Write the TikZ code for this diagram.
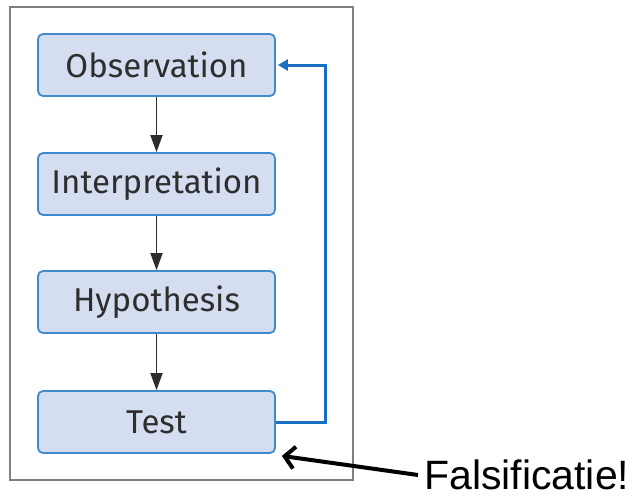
\documentclass[tikz,border=0pt]{standalone}
\usepackage{fontspec}
\setmainfont{Liberation Sans}
\newfontfamily\boxfont{Fira Sans}
\usetikzlibrary{arrows.meta}
\definecolor{boxfill}{HTML}{D5DEF0}
\definecolor{boxline}{HTML}{3F8BCB}
\definecolor{loopblue}{HTML}{1B6FC0}
\definecolor{txtgray}{HTML}{2E2E2E}
\tikzset{
  stepbox/.style={draw=boxline, line width=1.8pt, fill=boxfill, rounded corners=5pt,
    minimum width=237pt, minimum height=62pt, inner sep=0pt,
    font=\boxfont\fontsize{33}{33}\selectfont, text=txtgray},
  flow/.style={draw=txtgray, line width=1.8pt, -{Triangle[length=17pt,width=12pt]}},
  loop/.style={draw=loopblue, line width=3pt, -{Triangle[length=10pt,width=11pt]}},
  pointer/.style={draw=black, line width=4pt, -{Straight Barb[length=10pt,width=22pt,line width=4pt]}}
}
\begin{document}
\begin{tikzpicture}[x=1pt,y=-1pt]
\useasboundingbox (0,0) rectangle (638,499);
\node[draw=gray, line width=1.2pt, minimum width=343pt, minimum height=473pt, inner sep=0pt] (frame) at (181.5,243.5) {};
\node[stepbox] (obs) at (156.5,65) {Observation};
\node[stepbox] (int) at (156.5,184) {Interpretation};
\node[stepbox] (hyp) at (156.5,302) {Hypothesis};
\node[stepbox] (test) at (156.5,422) {Test};
\draw[flow] (obs) -- (int);
\draw[flow] (int) -- (hyp);
\draw[flow] (hyp) -- (test);
\coordinate (c1) at (325,422);
\coordinate (c2) at (325,65);
\draw[loop] (test.east) -- (c1) -- (c2) -- ([xshift=2pt]obs.east);
\node[anchor=base west, inner sep=0pt, font=\fontsize{41}{41}\selectfont] (fals) at (424,489) {Falsificatie!};
\coordinate (ptail) at (418,475);
\draw[pointer] (ptail) -- ([xshift=6pt,yshift=-2pt]test.south east);
\end{tikzpicture}
\end{document}
